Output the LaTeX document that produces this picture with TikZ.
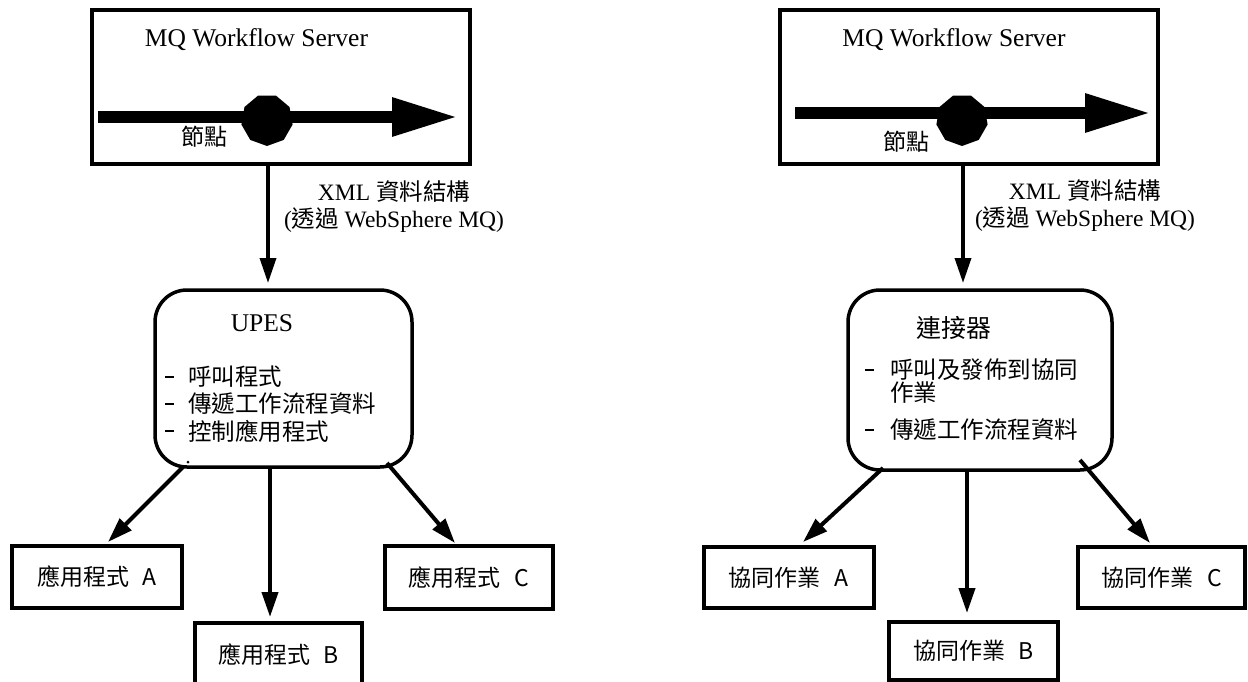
\documentclass[tikz,border=0pt]{standalone}
\usepackage{fontspec}
\setmainfont{Liberation Serif}
\newfontfamily\cjk{Noto Sans CJK TC}
\usetikzlibrary{arrows.meta,shapes.geometric,calc}
\begin{document}
\begin{tikzpicture}[x=1pt,y=-1pt,
  thickbox/.style={draw,line width=4pt,inner sep=0pt,outer sep=0pt},
  srv/.style={thickbox,minimum width=378pt,minimum height=154pt},
  hub/.style={draw,line width=3.5pt,rounded corners=32pt,inner sep=0pt,outer sep=0pt},
  appbox/.style={thickbox,font=\cjk\fontsize{23}{27}\selectfont},
  flow/.style={line width=12pt,-{Triangle[length=66pt,width=36pt]}},
  knot/.style={regular polygon,regular polygon sides=9,shape border rotate=180,fill=black,minimum size=52pt,inner sep=0pt},
  arr/.style={line width=4pt,-{Triangle[length=25pt,width=16pt]}},
  title/.style={font=\fontsize{25.5}{28}\selectfont,inner sep=0pt},
  knotlbl/.style={font=\cjk\fontsize{23}{26}\selectfont,inner sep=0pt},
  lbl/.style={font=\fontsize{23.5}{27}\selectfont,align=center,inner sep=0pt},
  item/.style={anchor=west,font=\cjk\fontsize{23.5}{25}\selectfont,inner sep=0pt},
  dashmark/.style={anchor=west,inner sep=0pt},
]
\useasboundingbox (0,0) rectangle (1248,682);

% ---------------- left ----------------
\node[srv] (srvL) at (281,87) {};
\node[title] (srvLt) at (256.5,40) {MQ Workflow Server};
\draw[flow] ($(srvL.west)+(6,30)$) -- ($(srvL.east)+(-12,30)$);
\node[knot] (knotL) at (267,120) {};
\node[knotlbl] (knotLt) at (204,137) {節點};

\node[hub,minimum width=257pt,minimum height=177pt] (upesL) at (283.5,378.5) {};
\node[title] (upesLt) at (262,323) {UPES};
\node[dashmark] (l1d) at (165,377) {\rule{9pt}{2.5pt}};
\node[item] (l1) at (188,377) {呼叫程式};
\node[dashmark] (l2d) at (165,404) {\rule{9pt}{2.5pt}};
\node[item] (l2) at (188,404) {傳遞工作流程資料};
\node[dashmark] (l3d) at (165,431) {\rule{9pt}{2.5pt}};
\node[item] (l3) at (188,431) {控制應用程式};
\fill (188,462) circle (1.5pt);

\draw[arr,line width=3.5pt] ($(srvL.south)+(-13,0)$) -- ($(srvL.south |- upesL.north)+(-13,-7)$);
\node[lbl] (lblL) at (394,206.5) {XML {\cjk 資料結構}\\({\cjk 透過} WebSphere MQ)};

\node[appbox,minimum width=170pt,minimum height=62pt] (appLA) at (97,577) {應用程式\hspace{0.6em}A};
\node[appbox,minimum width=167pt,minimum height=64pt] (appLB) at (278.5,655) {應用程式\hspace{0.6em}B};
\node[appbox,minimum width=168pt,minimum height=63pt] (appLC) at (469,577.5) {應用程式\hspace{0.6em}C};

\draw[arr] ($(upesL.south west)+(28,0)$) -- ($(appLA.north)+(11,-4)$);
\draw[arr] ($(upesL.south)+(-13.5,0)$) -- ($(appLB.north)+(-8.5,-6)$);
\draw[arr] ($(upesL.south east)+(-25,-4)$) -- ($(appLC.north)+(-14,-3)$);

% ---------------- right ----------------
\node[srv] (srvR) at (969,87) {};
\node[title] (srvRt) at (954,40) {MQ Workflow Server};
\draw[flow] ($(srvR.west)+(15,26)$) -- ($(srvR.east)+(-7,26)$);
\node[knot] (knotR) at (962,120) {};
\node[knotlbl] (knotRt) at (906,142) {節點};

\node[hub,minimum width=264pt,minimum height=180pt] (upesR) at (980,380) {};
\node[knotlbl,font=\cjk\fontsize{25}{28}\selectfont] (upesRt) at (954,328) {連接器};
\node[dashmark] (r1d) at (865,370) {\rule{9pt}{2.5pt}};
\node[item] (r1) at (890,370) {呼叫及發佈到協同};
\node[item] (r1b) at (890,393) {作業};
\node[dashmark] (r2d) at (865,430) {\rule{9pt}{2.5pt}};
\node[item] (r2) at (890,430) {傳遞工作流程資料};

\draw[arr,line width=3.5pt] ($(srvR.south)+(-6,0)$) -- ($(srvR.south |- upesR.north)+(-6,-7)$);
\node[lbl] (lblR) at (1085,205.5) {XML {\cjk 資料結構}\\({\cjk 透過} WebSphere MQ)};

\node[appbox,minimum width=170pt,minimum height=61pt] (appRA) at (788.5,577.5) {協同作業\hspace{0.6em}A};
\node[appbox,minimum width=169pt,minimum height=58pt] (appRB) at (973.5,651) {協同作業\hspace{0.6em}B};
\node[appbox,minimum width=167pt,minimum height=61pt] (appRC) at (1161.5,577.5) {協同作業\hspace{0.6em}C};

\draw[arr] ($(upesR.south west)+(35,-2)$) -- ($(appRA.north)+(14.5,-5)$);
\draw[arr] ($(upesR.south)+(-13,0)$) -- ($(appRB.north)+(-6.5,-9)$);
\draw[arr] ($(upesR.south east)+(-32,-10)$) -- ($(appRC.north)+(-11.5,-4)$);
\end{tikzpicture}
\end{document}
